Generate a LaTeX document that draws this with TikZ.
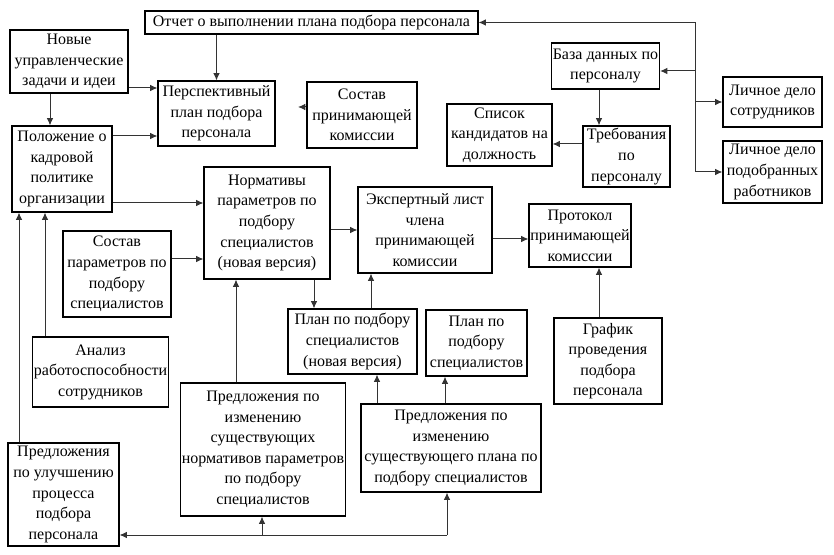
\documentclass[tikz,border=0pt]{standalone}
\usepackage{fontspec}
\setmainfont{LiberationSerif}[Extension=.ttf, UprightFont=*-Regular, BoldFont=*-Bold,
    ItalicFont=*-Italic, BoldItalicFont=*-BoldItalic]
\usepackage{tikz}
\usetikzlibrary{arrows.meta}

\begin{document}
\begin{tikzpicture}[
    x=0.75pt, y=-0.75pt,
    box/.style={rectangle, draw, line width=0.9pt, align=center, inner sep=1pt,
                font=\rmfamily\fontsize{12}{15.4}\selectfont},
    arrow/.style={-{Latex[length=5.5pt,width=5pt]}, line width=0.75pt, draw=black!80},
    line/.style={line width=0.75pt, draw=black!80}
]
    \useasboundingbox (0,0) rectangle (834,555);

    % Top row
    \node[box, minimum width=249.75pt, minimum height=17.25pt] (report)  at (311.5, 22.5)
        {Отчет о выполнении плана подбора персонала};
    \node[box, minimum width=88.5pt,  minimum height=47.25pt] (tasks)   at (69, 61.5)
        {Новые\\управленческие\\задачи и идеи};
    \node[box, minimum width=87.75pt, minimum height=48.75pt] (persp)   at (216.5, 113.5)
        {Перспективный\\план подбора\\персонала};
    \node[box, minimum width=82.5pt,  minimum height=49.5pt]  (komis)   at (362, 115)
        {Состав\\принимающей\\комиссии};
    \node[box, minimum width=75pt,    minimum height=64.5pt]  (policy)  at (62, 169)
        {Положение о\\кадровой\\политике\\организации};

    % Right group
    \node[box, minimum width=80.25pt, minimum height=34.5pt]  (base)    at (605.5, 66)
        {База данных по\\персоналу};
    \node[box, minimum width=65.25pt, minimum height=45.75pt] (req)     at (626.5, 156.5)
        {Требования\\по\\персоналу};
    \node[box, minimum width=78.75pt, minimum height=46.5pt]  (cand)    at (499.5, 135)
        {Список\\кандидатов на\\должность};
    \node[box, minimum width=74.25pt, minimum height=37.5pt]  (file1)   at (772.5, 102)
        {Личное дело\\сотрудников};
    \node[box, minimum width=74.25pt, minimum height=46.5pt]  (file2)   at (772.5, 172)
        {Личное дело\\подобранных\\работников};

    % Middle row
    \node[box, minimum width=94.5pt,  minimum height=84pt]    (norms)   at (267, 223)
        {Нормативы\\параметров по\\подбору\\специалистов\\(новая версия)};
    \node[box, minimum width=81pt,    minimum height=64.5pt]  (params)  at (117, 274)
        {Состав\\параметров по\\подбору\\специалистов};
    \node[box, minimum width=100.5pt, minimum height=64.5pt]  (expert)  at (425, 230)
        {Экспертный лист\\члена\\принимающей\\комиссии};
    \node[box, minimum width=67.5pt,  minimum height=47.25pt] (protocol) at (580, 235.5)
        {Протокол\\принимающей\\комиссии};

    % Lower rows
    \node[box, minimum width=101.25pt, minimum height=52.5pt] (analysis) at (100.5, 372)
        {Анализ\\работоспособности\\сотрудников};
    \node[box, minimum width=96.75pt, minimum height=48.75pt] (plannew) at (352.5, 341.5)
        {План по подбору\\специалистов\\(новая версия)};
    \node[box, minimum width=75.75pt, minimum height=49.5pt]  (plan)    at (476.5, 343)
        {План по\\подбору\\специалистов};
    \node[box, minimum width=81pt,    minimum height=64.5pt]  (sched)   at (608, 361)
        {График\\проведения\\подбора\\персонала};
    \node[box, minimum width=83.25pt, minimum height=77.25pt] (improve) at (63.5, 494.5)
        {Предложения\\по улучшению\\процесса\\подбора\\персонала};
    \node[box, minimum width=121.5pt, minimum height=99.75pt] (chnorms) at (263, 449.5)
        {Предложения по\\изменению\\существующих\\нормативов параметров\\по подбору\\специалистов};
    \node[box, minimum width=135pt,   minimum height=66pt]    (chplan)  at (451, 448)
        {Предложения по\\изменению\\существующего плана по\\подбору специалистов};

    % Rail coordinates
    \coordinate (railtop) at (695, 22.5);
    \coordinate (railbot) at (695, 172);
    \coordinate (komisend) at (298, 107);
    \coordinate (bottom)  at (447, 535);

    % ── Top part ──
    \draw[arrow] (report.south -| persp.north) -- (persp.north);
    \draw[arrow] (tasks.east |- 0,88) -- (persp.west |- 0,88);
    \draw[arrow] (tasks.south -| 50,0) -- (policy.north -| 50,0);
    \draw[arrow] (policy.east |- 0,136) -- (persp.west |- 0,136);
    \draw[arrow] (komis.west |- komisend) -- (komisend);

    % ── Right rail ──
    \draw[line]  (railtop) -- (railbot);
    \draw[arrow] (railtop) -- (report.east);
    \draw[arrow] (railtop |- 0,71) -- (base.east |- 0,71);
    \draw[arrow] (railtop |- file1.west) -- (file1.west);
    \draw[arrow] (railbot) -- (file2.west);
    \draw[arrow] (base.south -| 599,0) -- (req.north -| 599,0);
    \draw[arrow] (req.west |- 0,144) -- (cand.east |- 0,144);

    % ── Middle part ──
    \draw[arrow] (policy.east |- 0,203) -- (norms.west |- 0,203);
    \draw[arrow] (params.east |- 0,259) -- (norms.west |- 0,259);
    \draw[arrow] (analysis.north -| 45,0) -- (policy.south -| 45,0);
    \draw[arrow] (improve.north -| 19,0) -- (policy.south -| 19,0);
    \draw[arrow] (chnorms.north -| 236,0) -- (norms.south -| 236,0);
    \draw[arrow] (norms.east |- 0,230) -- (expert.west |- 0,230);
    \draw[arrow] (expert.east |- 0,239) -- (protocol.west |- 0,239);
    \draw[arrow] (norms.south -| 314,0) -- (plannew.north -| 314,0);
    \draw[arrow] (plannew.north -| 371,0) -- (expert.south -| 371,0);
    \draw[arrow] (sched.north -| 599,0) -- (protocol.south -| 599,0);
    \draw[arrow] (chplan.north -| 377,0) -- (plannew.south -| 377,0);
    \draw[arrow] (chplan.north -| 445,0) -- (plan.south -| 445,0);

    % ── Bottom rail ──
    \draw[arrow] (bottom) -- (improve.east |- bottom);
    \draw[arrow] (bottom) -- (chplan.south -| bottom);
    \draw[arrow] (bottom -| 262,0) -- (chnorms.south -| 262,0);
\end{tikzpicture}
\end{document}
